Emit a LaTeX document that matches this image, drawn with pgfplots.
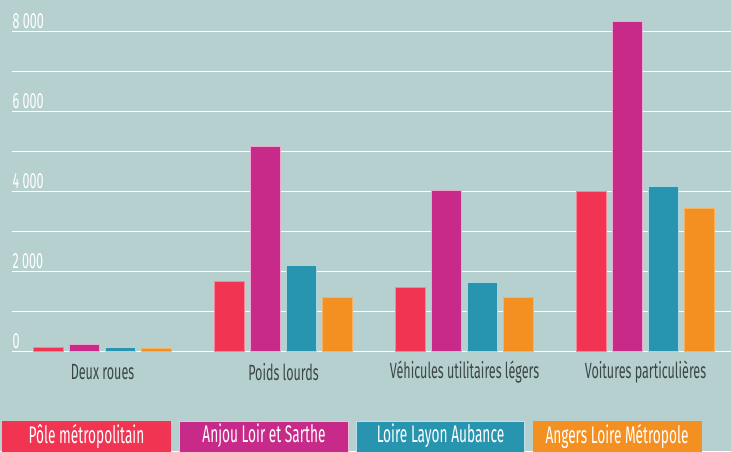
\documentclass[border=0pt]{standalone}
\usepackage{pgfplots}
\pgfplotsset{compat=1.18}
\usepackage{fontspec}
\setmainfont[FakeStretch=0.57]{Fira Sans}
\definecolor{bg}{RGB}{182,208,208}
\definecolor{cred}{RGB}{240,52,82}
\definecolor{cmag}{RGB}{199,42,137}
\definecolor{cteal}{RGB}{40,149,176}
\definecolor{corange}{RGB}{244,144,34}
\definecolor{labgray}{RGB}{60,70,72}
\begin{document}
\begin{tikzpicture}[x=1pt,y=1pt]
\fill[bg] (0,0) rectangle (731,451);
\path[use as bounding box] (0,0) rectangle (731,451);
\begin{axis}[
  at={(12pt,100pt)}, anchor=south west,
  scale only axis, width=719pt, height=351pt,
  xmin=-0.5, xmax=3.472, ymin=0, ymax=8775,
  axis line style={draw=none},
  tick style={draw=none},
  ytick={0,1000,...,8000},
  yticklabels={0,,2 000,,4 000,,6 000,,8 000},
  ymajorgrids, grid style={white, line width=1pt},
  yticklabel style={anchor=south west, text=white, font=\fontsize{22}{22}\selectfont, inner sep=0.5pt, yshift=2pt},
  xtick={0,1,2,3},
  xticklabels={Deux roues, Poids lourds, Véhicules utilitaires légers, Voitures particulières},
  xticklabel style={anchor=center, yshift=-17pt, text=labgray, font=\fontsize{22}{22}\selectfont},
  ybar, bar width=30pt, ybar=6pt,
]
\addplot[fill=cred, draw=white!40!cred, line width=0.8pt] coordinates {(0,100) (1,1750) (2,1600) (3,4000)};
\addplot[fill=cmag, draw=white!60!cmag, line width=0.8pt] coordinates {(0,175) (1,5125) (2,4025) (3,8250)};
\addplot[fill=cteal, draw=white!60!cteal, line width=0.8pt] coordinates {(0,90) (1,2150) (2,1725) (3,4125)};
\addplot[fill=corange, draw=white!30!corange, line width=0.8pt] coordinates {(0,75) (1,1350) (2,1350) (3,3575)};
\end{axis}
\begin{scope}[every node/.style={text=white, font=\fontsize{24}{24}\selectfont}]
\fill[cred] (2,-3) rectangle (171,30);
\node at (86.5,15) {Pôle métropolitain};
\fill[cmag, draw=white!70!cmag, line width=1pt] (179.5,-3) rectangle (348,30);
\node at (264,15) {Anjou Loir et Sarthe};
\fill[cteal, draw=white!70!cteal, line width=1pt] (356.5,-3) rectangle (524.5,30);
\node at (440.5,15) {Loire Layon Aubance};
\fill[corange] (533,-3) rectangle (701.5,30);
\node at (617,15) {Angers Loire Métropole};
\end{scope}
\end{tikzpicture}
\end{document}
